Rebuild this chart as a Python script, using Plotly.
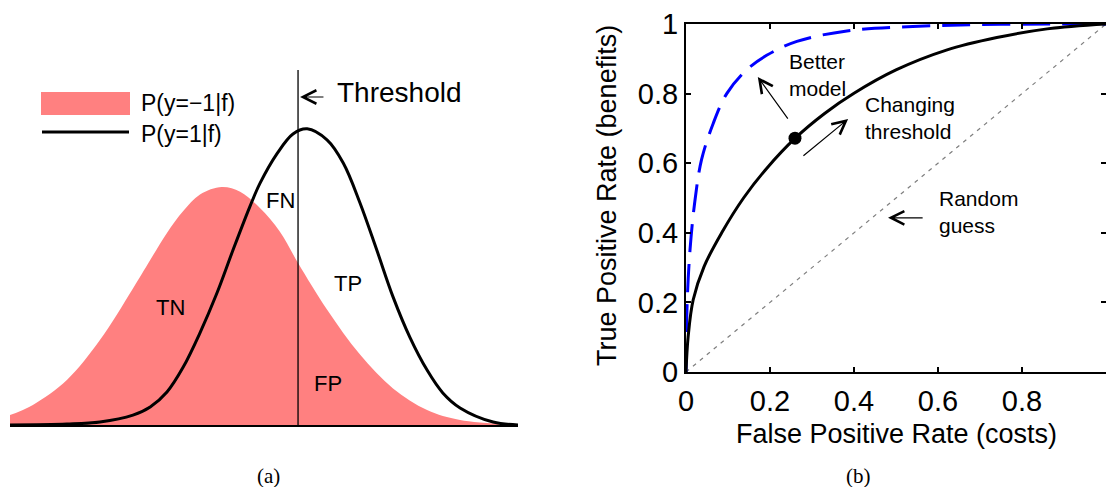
import plotly.graph_objects as go

W, H = 1106, 487

# ---------------- Panel (a): class-conditional densities over the score f ----------------
f_neg = [0, 0.45, 1.12, 1.77, 2.42, 2.76, 3.09, 3.41, 3.74, 4.17, 4.53, 4.92, 5.31, 5.67,
         6.24, 6.89, 7.54, 8.21, 8.86, 10]
p_neg = [0.033, 0.067, 0.15, 0.283, 0.455, 0.55, 0.64, 0.713, 0.768, 0.793, 0.777, 0.723,
         0.645, 0.54, 0.385, 0.235, 0.122, 0.05, 0.017, 0.002]
f_pos = [0, 1.12, 1.77, 2.42, 2.76, 3.09, 3.41, 3.74, 4.07, 4.39, 4.72, 4.92, 5.26, 5.57,
         5.85, 6.24, 6.56, 6.89, 7.22, 7.54, 7.87, 8.21, 8.52, 8.86, 9.51, 10]
p_pos = [0, 0.003, 0.01, 0.033, 0.06, 0.11, 0.193, 0.307, 0.438, 0.583, 0.727, 0.805, 0.905,
         0.97, 0.987, 0.95, 0.873, 0.74, 0.583, 0.427, 0.293, 0.183, 0.107, 0.057, 0.01, 0]
threshold = 5.67
threshold_top = 1.183
region_labels = ["TN", "FN", "TP", "FP"]
region_f = [3.15, 5.33, 6.65, 6.26]
region_p = [0.39, 0.747, 0.473, 0.137]

# ---------------- Panel (b): ROC curves ----------------
roc_fpr = [0, 0.005, 0.017, 0.043, 0.085, 0.137, 0.192, 0.26, 0.33, 0.40, 0.50, 0.62,
           0.74, 0.86, 1.0]
roc_tpr = [0, 0.10, 0.207, 0.303, 0.40, 0.50, 0.585, 0.672, 0.743, 0.801, 0.868, 0.925,
           0.961, 0.986, 1.0]
better_fpr = [0, 0.001, 0.003, 0.0095, 0.021, 0.037, 0.065, 0.097, 0.144, 0.192, 0.264,
              0.383, 0.54, 0.75, 1.0]
better_tpr = [0, 0.1, 0.207, 0.35, 0.49, 0.61, 0.715, 0.80, 0.868, 0.91, 0.95, 0.98,
              0.993, 0.999, 1.0]
random_fpr = [0, 1]
random_tpr = [0, 1]
point_fpr = [0.2595]
point_tpr = [0.672]
tick_vals = [0, 0.2, 0.4, 0.6, 0.8, 1.0]
tick_text = ["0", "0.2", "0.4", "0.6", "0.8", "1"]

SANS = "Liberation Sans, Arial, Helvetica, sans-serif"
SERIF = "Liberation Serif, Times New Roman, serif"


def px(x):
    return x / W


def py(y):
    return 1 - y / H


fig = go.Figure()

# panel (a)
fig.add_trace(go.Scatter(x=f_neg, y=p_neg, mode="lines", fill="tozeroy",
                         fillcolor="#FF8080", line=dict(width=0, shape="spline", smoothing=1.0),
                         xaxis="x", yaxis="y", showlegend=False, hoverinfo="skip"))
fig.add_trace(go.Scatter(x=f_pos, y=p_pos, mode="lines",
                         line=dict(color="black", width=3, shape="spline", smoothing=1.0),
                         xaxis="x", yaxis="y", showlegend=False, hoverinfo="skip"))
fig.add_trace(go.Scatter(x=[threshold, threshold], y=[0, threshold_top], mode="lines",
                         line=dict(color="black", width=1.3),
                         xaxis="x", yaxis="y", showlegend=False, hoverinfo="skip"))

# panel (b)
fig.add_trace(go.Scatter(x=random_fpr, y=random_tpr, mode="lines",
                         line=dict(color="#7f7f7f", width=1.2, dash="4px,5px"),
                         xaxis="x2", yaxis="y2", showlegend=False, hoverinfo="skip"))
fig.add_trace(go.Scatter(x=better_fpr, y=better_tpr, mode="lines",
                         line=dict(color="#0000FF", width=3, dash="28px,12px",
                                   shape="spline", smoothing=1.0),
                         xaxis="x2", yaxis="y2", showlegend=False, hoverinfo="skip"))
fig.add_trace(go.Scatter(x=roc_fpr, y=roc_tpr, mode="lines",
                         line=dict(color="black", width=3, shape="spline", smoothing=1.0),
                         xaxis="x2", yaxis="y2", showlegend=False, hoverinfo="skip"))
fig.add_trace(go.Scatter(x=point_fpr, y=point_tpr, mode="markers",
                         marker=dict(color="black", size=13),
                         xaxis="x2", yaxis="y2", showlegend=False, hoverinfo="skip"))

annotations = []
# region labels
for lab, fx, fy in zip(region_labels, region_f, region_p):
    annotations.append(dict(x=fx, y=fy, xref="x", yref="y", text=lab, showarrow=False,
                            xanchor="center", yanchor="middle",
                            font=dict(family=SANS, size=22, color="black")))
# threshold label + arrow
annotations.append(dict(x=6.40, y=1.107, xref="x", yref="y", text="Threshold",
                        showarrow=False, xanchor="left", yanchor="middle",
                        font=dict(family=SANS, size=28, color="black")))
annotations.append(dict(x=5.71, y=1.093, ax=6.20, ay=1.093, xref="x", yref="y",
                        axref="x", ayref="y", text="", showarrow=True,
                        arrowhead=5, arrowsize=2.2, arrowwidth=1.2, arrowcolor="black"))
# legend texts
annotations.append(dict(x=px(139), y=py(103), xref="paper", yref="paper", text="P(y=\u22121|f)",
                        showarrow=False, xanchor="left", yanchor="middle",
                        font=dict(family=SANS, size=23, color="black")))
annotations.append(dict(x=px(139), y=py(134), xref="paper", yref="paper", text="P(y=1|f)",
                        showarrow=False, xanchor="left", yanchor="middle",
                        font=dict(family=SANS, size=23, color="black")))

# panel (b) texts
for txt, tx, ty in [("Better<br>model", 0.240, 0.852),
                    ("Changing<br>threshold", 0.421, 0.731),
                    ("Random<br>guess", 0.598, 0.461)]:
    annotations.append(dict(x=tx, y=ty, xref="x2", yref="y2", text=txt, showarrow=False,
                            xanchor="left", yanchor="middle", align="left",
                            font=dict(family=SANS, size=21, color="black")))
for hx, hy, tx, ty in [(0.171, 0.848, 0.245, 0.724),
                       (0.386, 0.727, 0.276, 0.618),
                       (0.481, 0.443, 0.567, 0.443)]:
    annotations.append(dict(x=hx, y=hy, ax=tx, ay=ty, xref="x2", yref="y2",
                            axref="x2", ayref="y2", text="", showarrow=True,
                            arrowhead=5, arrowsize=2.2, arrowwidth=1.2, arrowcolor="black"))

# axis titles
annotations.append(dict(x=px(896), y=py(434), xref="paper", yref="paper",
                        text="False Positive Rate (costs)", showarrow=False,
                        xanchor="center", yanchor="middle",
                        font=dict(family=SANS, size=27, color="black")))
annotations.append(dict(x=px(607), y=py(196), xref="paper", yref="paper",
                        text="True Positive Rate (benefits)", showarrow=False, textangle=-90,
                        xanchor="center", yanchor="middle",
                        font=dict(family=SANS, size=27, color="black")))
# captions
annotations.append(dict(x=px(268), y=py(476), xref="paper", yref="paper", text="(a)",
                        showarrow=False, xanchor="center", yanchor="middle",
                        font=dict(family=SERIF, size=21, color="black")))
annotations.append(dict(x=px(858), y=py(476), xref="paper", yref="paper", text="(b)",
                        showarrow=False, xanchor="center", yanchor="middle",
                        font=dict(family=SERIF, size=21, color="black")))

shapes = [
    dict(type="rect", xref="paper", yref="paper", x0=px(41), x1=px(130), y0=py(115), y1=py(92),
         fillcolor="#FF8080", line=dict(width=0)),
    dict(type="line", xref="paper", yref="paper", x0=px(42), x1=px(129), y0=py(132), y1=py(132),
         line=dict(color="black", width=3)),
]

axis_b = dict(range=[0, 1], showline=True, linecolor="black", linewidth=2, mirror="ticks",
              ticks="inside", ticklen=5, tickwidth=1.5, tickcolor="black",
              tickvals=tick_vals, ticktext=tick_text, showgrid=False, zeroline=False,
              automargin=False,
              tickfont=dict(family=SANS, size=29, color="black"))

fig.update_layout(
    width=W, height=H, autosize=False,
    margin=dict(l=0, r=0, t=0, b=0, pad=0, autoexpand=False),
    paper_bgcolor="white", plot_bgcolor="rgba(0,0,0,0)",
    showlegend=False,
    xaxis=dict(domain=[px(10), px(518)], range=[0, 10], anchor="y", showline=True,
               linecolor="black", linewidth=2, showticklabels=False, ticks="",
               showgrid=False, zeroline=False, automargin=False),
    yaxis=dict(domain=[py(425), py(70)], range=[0, threshold_top], anchor="x", visible=False,
               showgrid=False, zeroline=False, automargin=False),
    xaxis2=dict(domain=[px(686), 1.0], anchor="y2", ticklabelstandoff=2, **axis_b),
    yaxis2=dict(domain=[py(372), py(24)], anchor="x2", ticklabelstandoff=0, **axis_b),
    annotations=annotations,
    shapes=shapes,
)

fig.write_html("out.html")
